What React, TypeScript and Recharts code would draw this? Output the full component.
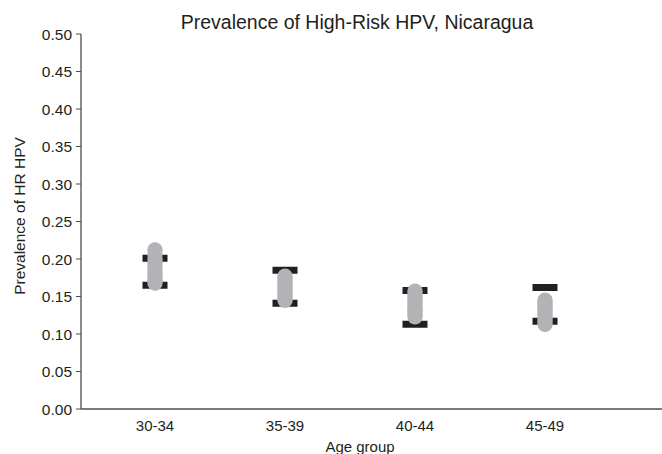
import React from "react";
import { ComposedChart, Scatter, XAxis, YAxis } from "recharts";

// Age groups on the x axis
const ageGroups = ["30-34", "35-39", "40-44", "45-49"];

// Model-run prevalence estimates for each age group
const runs3034 = [0.168, 0.172, 0.177, 0.181, 0.186, 0.19, 0.195, 0.2, 0.206, 0.212];
const runs3539 = [0.145, 0.148, 0.152, 0.156, 0.159, 0.163, 0.166, 0.17, 0.174, 0.177];
const runs4044 = [0.123, 0.127, 0.131, 0.134, 0.138, 0.142, 0.145, 0.149, 0.153, 0.157];
const runs4549 = [0.113, 0.117, 0.12, 0.124, 0.127, 0.131, 0.134, 0.138, 0.141, 0.145];

// Observed data bounds (lower / upper)
const targetLow = [0.165, 0.141, 0.113, 0.117];
const targetHigh = [0.201, 0.185, 0.158, 0.162];

const yTicks = [0, 0.05, 0.1, 0.15, 0.2, 0.25, 0.3, 0.35, 0.4, 0.45, 0.5];

const runsByGroup = [runs3034, runs3539, runs4044, runs4549];
const runKeys = runs3034.map((_, i) => `run${i}`);

const data = ageGroups.map((age, g) => {
  const row: Record<string, string | number> = {
    age,
    low: targetLow[g],
    high: targetHigh[g],
  };
  runsByGroup[g].forEach((v, i) => {
    row[`run${i}`] = v;
  });
  return row;
});

const FONT = "'Liberation Sans', Arial, sans-serif";
const TEXT = "#231f20";
const AXIS = "#4d4d4d";

const Dot = (props: any) => {
  const { cx, cy } = props;
  if (cx == null || cy == null) return null;
  return <circle cx={cx} cy={cy} r={7.7} fill="#b1b3b6" />;
};

const Cap = (props: any) => {
  const { cx, cy } = props;
  if (cx == null || cy == null) return null;
  return <rect x={cx - 12.5} y={cy - 3.5} width={25} height={7} fill="#231f20" />;
};

export default function App() {
  return (
    <div style={{ position: "absolute", left: 0, top: 0, width: 662, height: 454 }}>
      <ComposedChart
        width={662}
        height={454}
        data={data}
        margin={{ top: 34, right: 0, bottom: 15, left: 0 }}
      >
        <XAxis
          dataKey="age"
          type="category"
          height={30}
          padding={{ left: 74, right: 117 }}
          tickLine={false}
          axisLine={{ stroke: AXIS, strokeWidth: 1.3 }}
          tick={{ fill: TEXT, fontSize: 15, fontFamily: FONT }}
          tickMargin={5}
        />
        <YAxis
          type="number"
          domain={[0, 0.5]}
          ticks={yTicks}
          width={81}
          tickFormatter={(v: number) => v.toFixed(2)}
          tickLine={{ stroke: AXIS }}
          tickSize={5}
          tickMargin={4}
          axisLine={{ stroke: AXIS, strokeWidth: 1.3 }}
          tick={{ fill: TEXT, fontSize: 15.5, fontFamily: FONT }}
          interval={0}
        />
        <Scatter dataKey="low" shape={<Cap />} isAnimationActive={false} />
        <Scatter dataKey="high" shape={<Cap />} isAnimationActive={false} />
        {runKeys.map((k) => (
          <Scatter key={k} dataKey={k} shape={<Dot />} isAnimationActive={false} />
        ))}
        <text
          x={357}
          y={29}
          textAnchor="middle"
          fontSize={19.5}
          fontFamily={FONT}
          fill={TEXT}
        >
          Prevalence of High-Risk HPV, Nicaragua
        </text>
        <text
          x={360}
          y={452}
          textAnchor="middle"
          fontSize={15}
          fontFamily={FONT}
          fill={TEXT}
        >
          Age group
        </text>
        <text
          x={25}
          y={216}
          textAnchor="middle"
          fontSize={15.5}
          fontFamily={FONT}
          fill={TEXT}
          transform="rotate(-90 25 216)"
        >
          Prevalence of HR HPV
        </text>
      </ComposedChart>
    </div>
  );
}
